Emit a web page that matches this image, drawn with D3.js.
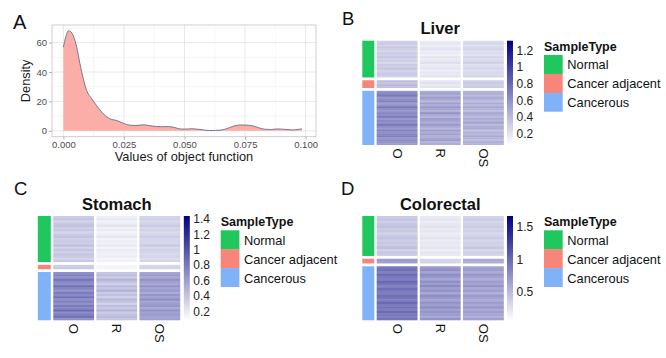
<!DOCTYPE html>
<html><head><meta charset="utf-8">
<script src="https://cdn.jsdelivr.net/npm/d3@7"></script>
<style>
body{margin:0;background:#fff}
svg{display:block;font-family:"Liberation Sans",Arial,Helvetica,sans-serif}
</style>
</head><body>
<svg id="c" width="666" height="358"></svg>
<script>
// ---------- DATA ----------
// Panel A: density of object function values
const densityX = [0, 0.001, 0.002, 0.003, 0.004, 0.0055, 0.0068, 0.0082, 0.0096, 0.0117, 0.0137, 0.0165, 0.0192, 0.022, 0.0247, 0.0275, 0.030, 0.033, 0.0355, 0.0385, 0.041, 0.0435, 0.046, 0.0485, 0.051, 0.053, 0.056, 0.0605, 0.065, 0.068, 0.0705, 0.073, 0.0755, 0.078, 0.0805, 0.083, 0.0855, 0.0885, 0.0915, 0.0948, 0.097, 0.0985];
const densityY = [57, 64, 68, 67.5, 65, 57, 46, 35.5, 27.5, 21.8, 17.2, 11.6, 8.2, 7, 5.2, 3.8, 3.6, 4.1, 3.6, 2.9, 2.8, 2.9, 2.2, 1.2, 1.2, 1.4, 1.0, 0.2, 0.5, 1.8, 3.3, 4.0, 3.9, 3.4, 2.2, 1.1, 0.9, 1.3, 1.0, 0.6, 1.0, 1.3];
const densityXTicks = [0, 0.025, 0.05, 0.075, 0.1];
const densityYTicks = [0, 20, 40, 60];

// Heatmaps
const columns = ["O", "R", "OS"];
const sampleTypes = ["Normal", "Cancer adjacent", "Cancerous"];
const sampleColors = ["#20c65e", "#f8857a", "#80b2f7"];

// Liver
const liverNormalO  = [0.30,0.33,0.28,0.35,0.31,0.27,0.34,0.30,0.36,0.29,0.32,0.26,0.33,0.30,0.35,0.28,0.31,0.34,0.29];
const liverNormalR  = [0.17,0.20,0.15,0.19,0.22,0.16,0.18,0.14,0.21,0.17,0.19,0.23,0.16,0.18,0.20,0.15,0.19,0.17,0.21];
const liverNormalOS = [0.24,0.27,0.22,0.26,0.29,0.23,0.25,0.21,0.28,0.24,0.26,0.30,0.22,0.25,0.27,0.23,0.26,0.24,0.28];
const liverAdjO  = [0.40,0.36,0.42,0.38];
const liverAdjR  = [0.19,0.22,0.18,0.21];
const liverAdjOS = [0.31,0.34,0.30,0.33];
const liverCancerO  = [0.60,0.66,0.72,0.58,0.63,0.69,0.55,0.61,0.74,0.64,0.59,0.67,0.62,0.70,0.57,0.65,0.60,0.73,0.63,0.56,0.68,0.61,0.66,0.71,0.58,0.64,0.60,0.55];
const liverCancerR  = [0.48,0.53,0.44,0.56,0.50,0.42,0.55,0.47,0.58,0.51,0.45,0.60,0.49,0.43,0.54,0.52,0.46,0.57,0.50,0.41,0.55,0.48,0.53,0.45,0.50,0.56,0.44,0.47];
const liverCancerOS = [0.43,0.47,0.40,0.49,0.45,0.38,0.48,0.42,0.51,0.44,0.39,0.50,0.46,0.41,0.47,0.43,0.52,0.40,0.45,0.48,0.37,0.46,0.42,0.49,0.44,0.40,0.47,0.43];
const liverRange = [0.07, 1.32];
const liverTicks = [0.2, 0.4, 0.6, 0.8, 1, 1.2];

// Stomach
const stomachNormalO  = [0.36,0.40,0.33,0.38,0.42,0.35,0.39,0.31,0.37,0.41,0.34,0.38,0.36,0.43,0.33,0.39,0.35,0.40,0.37,0.32,0.38];
const stomachNormalR  = [0.18,0.21,0.16,0.19,0.23,0.17,0.20,0.15,0.18,0.22,0.16,0.19,0.17,0.21,0.15,0.20,0.18,0.16,0.19,0.14,0.17];
const stomachNormalOS = [0.31,0.35,0.29,0.33,0.37,0.30,0.34,0.28,0.32,0.36,0.30,0.33,0.31,0.38,0.29,0.34,0.32,0.30,0.33,0.27,0.31];
const stomachAdjO  = [0.35,0.37];
const stomachAdjR  = [0.14,0.15];
const stomachAdjOS = [0.31,0.33];
const stomachCancerO  = [0.70,0.76,0.66,0.82,0.72,0.68,0.86,0.74,0.65,0.78,0.71,0.84,0.69,0.75,0.67,0.80,0.73,0.88,0.70,0.77,0.83,0.68];
const stomachCancerR  = [0.40,0.45,0.36,0.48,0.41,0.34,0.46,0.39,0.50,0.37,0.43,0.35,0.47,0.40,0.33,0.44,0.38,0.49,0.36,0.42,0.45,0.39];
const stomachCancerOS = [0.58,0.63,0.54,0.66,0.60,0.55,0.68,0.57,0.62,0.53,0.65,0.59,0.70,0.56,0.61,0.64,0.55,0.67,0.58,0.62,0.57,0.60];
const stomachRange = [0.09, 1.44];
const stomachTicks = [0.2, 0.4, 0.6, 0.8, 1, 1.2, 1.4];

// Colorectal
const colorectalNormalO  = [0.40,0.44,0.37,0.42,0.47,0.39,0.43,0.35,0.41,0.46,0.38,0.42,0.40,0.48,0.36,0.43,0.39];
const colorectalNormalR  = [0.21,0.24,0.19,0.22,0.26,0.20,0.23,0.18,0.21,0.25,0.19,0.22,0.20,0.24,0.18,0.23,0.21];
const colorectalNormalOS = [0.35,0.39,0.33,0.37,0.41,0.34,0.38,0.31,0.36,0.40,0.33,0.37,0.35,0.42,0.32,0.38,0.34];
const colorectalAdjO  = [0.70,0.68];
const colorectalAdjR  = [0.33,0.35];
const colorectalAdjOS = [0.61,0.60];
const colorectalCancerO  = [0.90,0.96,0.86,1.00,0.92,0.88,1.02,0.94,0.85,0.98,0.91,0.89,0.97,0.93,0.87,1.01,0.90,0.95,0.88,0.99,0.92,0.86,0.94];
const colorectalCancerR  = [0.70,0.76,0.65,0.79,0.72,0.63,0.77,0.69,0.81,0.67,0.74,0.62,0.78,0.71,0.64,0.75,0.68,0.80,0.66,0.73,0.70,0.61,0.74];
const colorectalCancerOS = [0.64,0.69,0.60,0.72,0.66,0.58,0.70,0.63,0.74,0.61,0.68,0.57,0.71,0.65,0.59,0.69,0.62,0.73,0.60,0.67,0.64,0.56,0.68];
const colorectalRange = [0.07, 1.67];
const colorectalTicks = [0.5, 1, 1.5];

// ---------- DRAW ----------
const svg = d3.select("#c");
const FONT = '"Liberation Sans",Arial,Helvetica,sans-serif';

// Panel letters
function letter(t, x, y, size){
  svg.append("text").attr("x", x).attr("y", y).attr("font-size", size).attr("fill", "#111").text(t);
}
letter("A", 13, 29.3, 20);
letter("B", 342, 25, 18.5);
letter("C", 14, 195, 18.5);
letter("D", 341, 194.5, 18.5);

// ---- Panel A ----
(function(){
  const x = d3.scaleLinear().domain([-0.0047, 0.1043]).range([52, 316]);
  const y = d3.scaleLinear().domain([-4, 72]).range([136.7, 25]);
  const g = svg.append("g");
  const [x0, x1] = x.range(), [y0, y1] = y.range();
  const xMinor = d3.pairs(densityXTicks).map(([a, b]) => (a + b) / 2);
  const step = densityYTicks[1] - densityYTicks[0];
  const yMinor = densityYTicks.map(v => v + step / 2).filter(v => v < y.domain()[1]);
  g.selectAll(".xmin").data(xMinor).join("line").attr("x1", d => x(d)).attr("x2", d => x(d)).attr("y1", y0).attr("y2", y1).attr("stroke", "#f0f0f0").attr("stroke-width", 0.6);
  g.selectAll(".ymin").data(yMinor).join("line").attr("y1", d => y(d)).attr("y2", d => y(d)).attr("x1", x0).attr("x2", x1).attr("stroke", "#f0f0f0").attr("stroke-width", 0.6);
  g.selectAll(".xmaj").data(densityXTicks).join("line").attr("x1", d => x(d)).attr("x2", d => x(d)).attr("y1", y0).attr("y2", y1).attr("stroke", "#e2e2e2").attr("stroke-width", 0.8);
  g.selectAll(".ymaj").data(densityYTicks).join("line").attr("y1", d => y(d)).attr("y2", d => y(d)).attr("x1", x0).attr("x2", x1).attr("stroke", "#e2e2e2").attr("stroke-width", 0.8);

  const pts = densityX.map((d, i) => [d, densityY[i]]);
  g.append("path").datum(pts)
    .attr("d", d3.area().x(d => x(d[0])).y0(y(0)).y1(d => y(d[1])).curve(d3.curveMonotoneX))
    .attr("fill", "#fbada7");
  g.append("path").datum(pts)
    .attr("d", d3.line().x(d => x(d[0])).y(d => y(d[1])).curve(d3.curveMonotoneX))
    .attr("fill", "none").attr("stroke", "#66708f").attr("stroke-width", 0.9);

  g.append("rect").attr("x", x0).attr("y", y1).attr("width", x1 - x0).attr("height", y0 - y1)
    .attr("fill", "none").attr("stroke", "#c4c4c4").attr("stroke-width", 0.8);

  const xAxis = d3.axisBottom(x).tickValues(densityXTicks).tickFormat(d3.format(".3f")).tickSize(3).tickPadding(2);
  const gx = g.append("g").attr("transform", `translate(0,${y0})`).call(xAxis);
  const yAxis = d3.axisLeft(y).tickValues(densityYTicks).tickSize(3).tickPadding(2);
  const gy = g.append("g").attr("transform", `translate(${x0},0)`).call(yAxis);
  [gx, gy].forEach(a => {
    a.select(".domain").remove();
    a.selectAll(".tick line").attr("stroke", "#b3b3b3");
    a.selectAll(".tick text").attr("font-family", FONT).attr("font-size", 9.5).attr("fill", "#4d4d4d");
  });
  g.append("text").attr("x", (x0 + x1) / 2).attr("y", 161).attr("text-anchor", "middle")
    .attr("font-size", 12.8).attr("fill", "#1a1a1a").text("Values of object function");
  g.append("text").attr("transform", `translate(29.5,${(y0 + y1) / 2}) rotate(-90)`).attr("text-anchor", "middle")
    .attr("font-size", 12.8).attr("fill", "#1a1a1a").text("Density");
})();

// ---- Heatmaps ----
function drawHeatmap(id, title, groupsVals, range, ticks, L){
  const g = svg.append("g");
  const counts = groupsVals.map(gv => gv[0].length);
  const N = d3.sum(counts);
  const gap = 2.8;
  const rowH = (L.bottom - L.top - gap * (groupsVals.length - 1)) / N;
  const xb = d3.scaleBand().domain(columns).range([L.heatX0, L.heatX1]).paddingInner(0.054);
  const color = d3.scaleLinear().domain(range).range(["#ffffff", "#000080"]);
  let yStart = L.top;
  groupsVals.forEach((gv, gi) => {
    const h = counts[gi] * rowH;
    const yr = d3.scaleBand().domain(d3.range(counts[gi])).range([yStart, yStart + h]);
    g.append("rect").attr("x", L.annX).attr("y", yStart).attr("width", L.annW).attr("height", h)
      .attr("fill", sampleColors[gi]);
    columns.forEach((c, ci) => {
      g.selectAll(null).data(gv[ci]).join("rect")
        .attr("x", xb(c)).attr("width", xb.bandwidth())
        .attr("y", (d, i) => yr(i))
        .attr("height", (d, i) => yr.bandwidth() + (i < counts[gi] - 1 ? 0.4 : 0))
        .attr("fill", d => color(d));
    });
    yStart += h + gap;
  });
  // title
  g.append("text").attr("x", (L.heatX0 + L.heatX1) / 2).attr("y", L.top - 6.3).attr("text-anchor", "middle")
    .attr("font-size", 16.5).attr("font-weight", "bold").attr("fill", "#111").text(title);
  // column labels
  columns.forEach(c => {
    g.append("text").attr("transform", `translate(${xb(c) + xb.bandwidth() / 2},${L.bottom + 3.5}) rotate(90)`)
      .attr("dominant-baseline", "central").attr("font-size", 13).attr("fill", "#111").text(c);
  });
  // colorbar
  const cb = d3.scaleLinear().domain(range).range([L.bottom, L.top]);
  const grad = svg.append("defs").append("linearGradient").attr("id", "grad" + id)
    .attr("x1", 0).attr("y1", 1).attr("x2", 0).attr("y2", 0);
  d3.range(0, 1.0001, 0.1).forEach(t => {
    grad.append("stop").attr("offset", t).attr("stop-color", color(range[0] + t * (range[1] - range[0])));
  });
  g.append("rect").attr("x", L.cbX).attr("y", L.top).attr("width", 6).attr("height", L.bottom - L.top)
    .attr("fill", `url(#grad${id})`);
  g.selectAll(null).data(ticks).join("text")
    .attr("x", L.cbX + 9.5).attr("y", d => cb(d)).attr("dominant-baseline", "central")
    .attr("font-size", 12).attr("fill", "#222").text(d => d);
  // legend
  g.append("text").attr("x", L.legX).attr("y", L.top + 10).attr("font-size", 12.5).attr("font-weight", "bold")
    .attr("fill", "#111").text("SampleType");
  const keyH = 18.9;
  sampleTypes.forEach((s, i) => {
    const ky = L.top + 14.3 + i * keyH;
    g.append("rect").attr("x", L.legX).attr("y", ky).attr("width", 18.7).attr("height", keyH + (i < 2 ? 0.3 : 0))
      .attr("fill", sampleColors[i]);
    g.append("text").attr("x", L.legX + 23.3).attr("y", ky + keyH / 2 + 0.5).attr("dominant-baseline", "central")
      .attr("font-size", 12.8).attr("fill", "#111").text(s);
  });
}

drawHeatmap("liver", "Liver",
  [[liverNormalO, liverNormalR, liverNormalOS], [liverAdjO, liverAdjR, liverAdjOS], [liverCancerO, liverCancerR, liverCancerOS]],
  liverRange, liverTicks,
  {annX: 362.3, annW: 12, heatX0: 376.7, heatX1: 503.8, top: 40.7, bottom: 145, cbX: 507, legX: 544});

drawHeatmap("stomach", "Stomach",
  [[stomachNormalO, stomachNormalR, stomachNormalOS], [stomachAdjO, stomachAdjR, stomachAdjOS], [stomachCancerO, stomachCancerR, stomachCancerOS]],
  stomachRange, stomachTicks,
  {annX: 37.8, annW: 13, heatX0: 53.3, heatX1: 180.2, top: 216, bottom: 320.3, cbX: 183.8, legX: 220.7});

drawHeatmap("colorectal", "Colorectal",
  [[colorectalNormalO, colorectalNormalR, colorectalNormalOS], [colorectalAdjO, colorectalAdjR, colorectalAdjOS], [colorectalCancerO, colorectalCancerR, colorectalCancerOS]],
  colorectalRange, colorectalTicks,
  {annX: 362.3, annW: 12, heatX0: 376.7, heatX1: 503.8, top: 216, bottom: 320.3, cbX: 507, legX: 544});
</script>
</body></html>
